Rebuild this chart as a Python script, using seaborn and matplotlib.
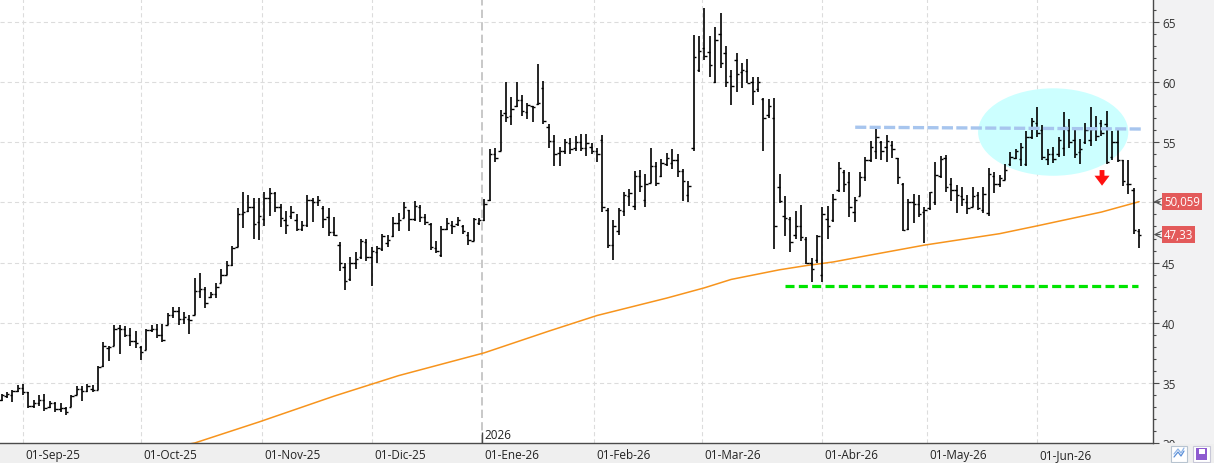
import numpy as np
import pandas as pd
import matplotlib
matplotlib.use("Agg")
import matplotlib.pyplot as plt
from matplotlib.patches import Ellipse, Polygon, Rectangle
from matplotlib.ticker import MultipleLocator
from matplotlib.transforms import Bbox, TransformedBbox
import seaborn as sns

# trading calendar (BME holidays removed)
holidays = ["2025-12-25", "2025-12-26", "2026-01-01", "2026-04-03", "2026-04-06", "2026-05-01"]
days = pd.bdate_range("2025-08-26", "2026-06-26")
days = days[~days.isin(pd.to_datetime(holidays))]

# daily OHLC
opens = [33.6, 33.9, 34.0, 34.3, 34.6, 34.2, 33.1, 33.3, 33.6, 33.0,
         33.3, 32.8, 32.9, 33.0, 34.0, 34.5, 34.3, 34.5, 34.4, 36.4,
         37.9, 38.1, 39.6, 39.5, 39.0, 38.5, 38.0, 37.7, 39.4, 39.5,
         39.0, 39.8, 40.6, 41.0, 40.3, 40.3, 40.6, 42.6, 42.8, 42.1,
         42.4, 43.3, 44.0, 44.8, 46.3, 49.0, 49.3, 49.6, 48.4, 48.6,
         50.4, 50.8, 49.6, 48.5, 48.9, 48.5, 47.8, 48.1, 50.2, 50.0,
         49.5, 48.8, 47.5, 46.5, 44.6, 43.6, 45.0, 45.5, 46.7, 45.5,
         45.9, 46.1, 46.6, 47.2, 48.3, 48.7, 49.4, 48.6, 49.6, 48.8,
         48.2, 46.2, 45.6, 47.8, 48.1, 48.2, 48.0, 47.3, 46.8, 48.3,
         48.5, 50.2, 54.0, 54.3, 57.4, 57.2, 58.0, 58.5, 57.5, 58.0,
         58.2, 59.5, 56.3, 55.1, 54.1, 54.3, 54.9, 54.5, 55.0, 54.5,
         54.6, 54.3, 55.2, 49.4, 46.5, 47.6, 49.3, 50.5, 49.7, 52.2,
         50.2, 51.6, 53.0, 52.2, 53.2, 53.3, 53.5, 52.6, 50.6, 54.5,
         61.0, 62.8, 62.5, 60.0, 64.0, 62.4, 60.5, 61.8, 60.8, 60.9,
         60.0, 59.4, 58.6, 57.3, 57.0, 51.3, 48.9, 48.6, 47.3, 48.0,
         47.0, 45.0, 45.2, 44.0, 48.6, 48.5, 51.0, 52.5, 51.7, 49.2,
         50.5, 52.1, 53.5, 54.3, 55.0, 54.6, 54.8, 53.7, 51.5, 47.8,
         50.0, 49.9, 49.2, 49.5, 50.0, 52.2, 53.7, 51.5, 51.0, 50.5,
         50.0, 49.6, 50.6, 49.4, 49.1, 52.2, 51.5, 51.9, 53.2, 53.7,
         53.6, 53.2, 55.4, 56.6, 56.0, 53.6, 54.0, 54.0, 54.5, 56.0,
         55.2, 54.2, 55.0, 55.2, 56.2, 56.6, 56.5, 53.8, 55.0, 53.5,
         51.5, 51.0, 47.6]
highs = [34.1, 34.2, 34.4, 34.8, 34.9, 34.25, 33.55, 34.0, 34.1, 33.5,
         33.4, 33.3, 33.0, 34.0, 34.7, 34.7, 34.9, 34.8, 36.4, 38.4,
         38.1, 39.8, 39.8, 39.7, 39.6, 39.3, 38.1, 39.5, 39.8, 39.9,
         39.9, 40.8, 41.3, 41.3, 40.9, 40.6, 43.7, 44.1, 43.0, 42.55,
         43.3, 44.5, 45.1, 46.4, 49.5, 50.9, 50.6, 50.4, 50.4, 50.9,
         51.2, 50.9, 49.9, 49.3, 49.7, 49.0, 48.45, 50.6, 50.4, 50.5,
         49.7, 49.5, 48.8, 46.7, 45.0, 45.5, 45.9, 47.0, 47.0, 46.3,
         46.4, 47.4, 47.3, 48.8, 49.1, 50.05, 49.4, 50.1, 49.8, 49.0,
         48.25, 46.8, 48.0, 48.7, 48.45, 48.8, 48.1, 47.55, 48.7, 48.7,
         50.3, 54.4, 54.5, 57.65, 60.0, 58.8, 60.0, 58.9, 58.3, 58.0,
         61.5, 60.1, 56.5, 55.6, 54.6, 55.25, 55.35, 55.5, 55.7, 55.7,
         54.9, 54.5, 55.6, 49.5, 48.5, 49.5, 50.9, 51.1, 52.6, 52.7,
         52.4, 54.5, 53.4, 53.6, 54.1, 54.4, 54.0, 52.75, 51.75, 63.95,
         63.8, 66.2, 63.8, 64.6, 65.75, 63.0, 61.0, 62.45, 61.6, 61.95,
         60.4, 60.4, 58.7, 58.6, 58.7, 52.4, 50.5, 48.8, 49.3, 49.8,
         47.1, 45.4, 47.3, 49.6, 49.7, 50.7, 53.4, 52.7, 52.5, 50.45,
         52.5, 53.75, 55.1, 56.2, 55.1, 55.6, 55.1, 53.7, 51.6, 50.3,
         50.7, 50.6, 49.6, 50.9, 53.35, 53.9, 53.95, 52.0, 51.45, 51.3,
         50.6, 51.3, 50.85, 51.3, 52.9, 52.5, 52.3, 53.2, 54.2, 54.45,
         54.9, 55.95, 57.05, 57.9, 56.4, 54.45, 54.6, 55.4, 57.5, 56.95,
         56.1, 55.3, 56.6, 57.95, 57.2, 56.85, 57.6, 55.9, 56.1, 53.5,
         53.5, 51.2, 47.75]
lows = [33.5, 33.7, 33.4, 34.25, 34.0, 32.9, 32.9, 33.05, 32.7, 32.9,
        32.6, 32.6, 32.3, 33.0, 34.0, 33.5, 34.25, 34.25, 34.4, 36.3,
        36.8, 38.1, 37.4, 38.8, 38.1, 37.9, 36.9, 37.7, 39.2, 38.75,
        38.4, 39.8, 40.4, 39.8, 39.9, 39.1, 40.6, 42.05, 41.2, 42.05,
        42.05, 43.3, 44.0, 44.7, 46.3, 47.9, 49.2, 47.0, 46.9, 48.0,
        48.9, 49.2, 47.95, 47.4, 48.6, 47.6, 47.6, 47.95, 48.4, 49.7,
        47.9, 47.2, 47.2, 44.3, 42.7, 43.5, 44.5, 45.3, 45.1, 43.05,
        45.0, 46.0, 46.3, 47.15, 47.6, 48.7, 47.6, 48.45, 48.4, 48.1,
        46.05, 45.8, 45.5, 47.7, 47.4, 48.0, 47.4, 46.5, 46.8, 48.1,
        48.45, 50.1, 53.4, 54.3, 56.7, 56.4, 57.9, 57.2, 56.95, 56.7,
        58.1, 56.5, 54.5, 53.0, 53.0, 54.0, 54.05, 54.3, 54.25, 53.85,
        54.0, 53.35, 49.2, 46.2, 45.25, 47.25, 48.9, 49.7, 49.4, 50.9,
        49.6, 51.6, 51.4, 52.1, 53.0, 52.75, 52.1, 50.1, 50.0, 54.25,
        60.8, 61.8, 60.4, 59.9, 61.2, 59.6, 58.1, 59.2, 59.5, 59.9,
        58.1, 59.2, 54.3, 57.0, 46.1, 49.95, 47.2, 45.85, 47.0, 46.8,
        44.9, 43.4, 45.0, 43.4, 47.0, 48.4, 50.9, 50.9, 48.75, 48.4,
        50.5, 51.75, 53.35, 53.6, 53.55, 53.4, 53.7, 51.5, 47.6, 47.7,
        48.3, 48.8, 46.65, 49.35, 49.8, 52.0, 50.9, 50.1, 49.1, 49.7,
        49.0, 49.6, 49.35, 49.1, 48.9, 50.75, 51.3, 51.9, 53.0, 53.6,
        53.0, 53.0, 55.3, 55.4, 53.5, 53.1, 53.3, 53.8, 53.9, 54.5,
        53.7, 53.2, 54.85, 54.7, 55.1, 55.55, 53.2, 53.5, 53.4, 51.4,
        50.7, 47.4, 46.2]
closes = [34.0, 34.1, 34.3, 34.6, 34.2, 33.1, 33.3, 33.6, 32.9, 33.3,
          32.8, 32.9, 32.6, 33.9, 34.5, 34.3, 34.7, 34.4, 36.3, 38.1,
          38.0, 39.5, 39.5, 39.0, 38.5, 38.3, 37.6, 39.4, 39.5, 39.0,
          38.6, 40.6, 41.0, 40.3, 40.5, 40.2, 42.6, 42.8, 41.6, 42.4,
          43.0, 44.0, 44.8, 46.2, 49.0, 49.2, 49.6, 48.2, 48.9, 50.4,
          50.8, 49.6, 48.7, 48.1, 49.2, 47.8, 48.1, 50.2, 50.0, 50.2,
          48.6, 47.5, 47.3, 45.0, 43.5, 45.0, 45.3, 46.8, 45.5, 46.0,
          46.2, 47.2, 46.9, 48.3, 48.5, 49.6, 48.6, 49.7, 48.8, 48.4,
          46.3, 46.0, 47.8, 48.3, 48.0, 48.5, 47.6, 46.9, 48.6, 48.5,
          49.9, 54.0, 53.7, 57.3, 57.1, 57.8, 58.5, 57.6, 58.1, 57.9,
          58.3, 56.8, 55.1, 54.0, 54.3, 55.0, 54.4, 55.0, 54.5, 54.9,
          54.3, 54.0, 49.6, 46.5, 48.0, 49.4, 50.6, 50.8, 52.2, 51.4,
          51.5, 53.0, 51.6, 53.3, 53.7, 53.5, 52.6, 51.8, 51.4, 62.1,
          62.6, 62.2, 61.4, 63.5, 61.6, 60.0, 59.7, 60.7, 61.0, 59.9,
          59.3, 60.0, 57.0, 58.0, 48.0, 50.1, 48.7, 46.7, 48.0, 47.1,
          45.0, 44.5, 47.2, 49.0, 48.0, 50.3, 52.9, 51.5, 49.6, 50.2,
          52.1, 53.5, 54.6, 55.4, 54.3, 55.1, 54.4, 52.1, 47.7, 50.0,
          49.9, 49.0, 49.4, 50.9, 52.3, 53.6, 51.3, 51.0, 50.6, 50.3,
          49.5, 50.5, 49.5, 50.7, 52.4, 51.5, 52.0, 52.7, 53.8, 54.3,
          54.6, 55.4, 56.8, 55.8, 53.8, 54.0, 53.6, 55.2, 56.3, 55.0,
          54.0, 54.4, 56.0, 56.1, 55.5, 55.8, 53.4, 55.0, 53.5, 51.8,
          51.5, 47.7, 47.33]

# orange moving average, read at a few bar positions
ma_pos = [30, 36, 48, 62, 74, 90, 102, 111, 124, 131, 136, 145, 150, 155, 161, 172, 186, 193, 205, 212]
ma_val = [29.5, 30.0, 31.75, 33.9, 35.6, 37.5, 39.3, 40.6, 42.05, 42.9, 43.6, 44.4, 44.75, 45.05,
          45.55, 46.45, 47.4, 48.05, 49.2, 50.06]

month_starts = ["2025-09-01", "2025-10-01", "2025-11-01", "2025-12-01", "2026-01-01",
                "2026-02-01", "2026-03-01", "2026-04-01", "2026-05-01", "2026-06-01"]
month_labels = ["01-Sep-25", "01-Oct-25", "01-Nov-25", "01-Dic-25", "01-Ene-26",
                "01-Feb-26", "01-Mar-26", "01-Abr-26", "01-May-26", "01-Jun-26"]
price_ticks = [30, 35, 40, 45, 50, 55, 60, 65]

resistance = 56.2
support = 43.05
last_ma = 50.059
last_close = 47.33

assert len(days) == len(opens) == len(highs) == len(lows) == len(closes)
x = np.arange(len(days))

tick_pos = []
for m in pd.to_datetime(month_starts):
    i = int(np.searchsorted(days, m))
    tick_pos.append(i if days[i] == m else i - 0.5)

sns.set_theme(style="white")
plt.rcParams["font.family"] = ["Open Sans", "DejaVu Sans"]
plt.rcParams["lines.scale_dashes"] = False

W, H = 1214, 464
fig = plt.figure(figsize=(W / 100, H / 100), dpi=100, facecolor="#f2f2f3")
ax = fig.add_axes([0, 20 / H, 1153 / W, 444 / H])
ax.set_facecolor("white")

# grid
grid_kw = dict(color="#dcdcdc", lw=0.8, dashes=(3, 2.2), zorder=0)
for v in price_ticks[1:]:
    ax.axhline(v, **grid_kw)
for p, lab in zip(tick_pos, month_labels):
    if lab.startswith("01-Ene"):
        ax.axvline(p, color="#c4c4c4", lw=1.3, dashes=(6, 3), zorder=0)
    else:
        ax.axvline(p, **grid_kw)

# channel highlight
ax.add_patch(Ellipse((196.0, 55.85), 28.0, 7.27, facecolor="#ccffff", edgecolor="none", zorder=1))

# moving average
sns.lineplot(x=ma_pos, y=ma_val, ax=ax, color="#f7941d", lw=1.1, zorder=2)

# OHLC bars
ax.vlines(x, lows, highs, color="black", lw=1.2, zorder=3)
ax.hlines(opens, x - 0.45, x, color="black", lw=1.0, zorder=3)
ax.hlines(closes, x, x + 0.45, color="black", lw=1.0, zorder=3)

# drawn levels
ax.plot([159.1, 212.8], [resistance + 0.05, resistance - 0.1], color="#a7c5ee", lw=2.4,
        dashes=(8, 2.4), zorder=4, solid_capstyle="butt")
ax.plot([146.0, 211.8], [support, support], color="#00e400", lw=2.3,
        dashes=(6.5, 3.1), zorder=4)

# red down arrow
ax.add_patch(Polygon([(204.65, 52.69), (205.55, 52.69), (205.55, 52.22), (206.5, 52.22),
                      (205.1, 51.39), (203.7, 52.22), (204.65, 52.22)],
                     closed=True, facecolor="#ff1010", edgecolor="none", zorder=5))

ax.set_xlim(-0.28, 214.6)
ax.set_ylim(30, 66.91)

# axes styling
for s in ["left", "top"]:
    ax.spines[s].set_visible(False)
for s in ["right", "bottom"]:
    ax.spines[s].set_color("#4a4a4a")
    ax.spines[s].set_linewidth(1.0)

ax.yaxis.tick_right()
ax.set_yticks(price_ticks)
# the "50" label sits under the last-value tag, as in the source
ax.set_yticklabels(["" if v == 50 else str(v) for v in price_ticks])
ax.yaxis.set_minor_locator(MultipleLocator(1))
ax.tick_params(axis="y", which="major", direction="out", length=4.5, width=0.8,
               color="#4a4a4a", labelsize=8.5, labelcolor="#333333", pad=2)
ax.tick_params(axis="y", which="minor", direction="out", length=2.5, width=0.8, color="#4a4a4a")
ax.set_xticks(tick_pos)
ax.set_xticklabels([])
ax.tick_params(axis="x", direction="out", length=6.5, width=0.8, color="#4a4a4a")
ax.set_xlabel("")
ax.set_ylabel("")

# clip the bottom "30" label like the source
clip = TransformedBbox(Bbox([[0, 20 / H], [1, 1]]), fig.transFigure)
for t in ax.yaxis.get_major_ticks():
    t.label2.set_clip_box(clip)
    t.label2.set_clip_on(True)

# bottom band and date labels
fig.patches.append(Rectangle((0, 0), 1, 19.5 / H, transform=fig.transFigure,
                             facecolor="#efefef", edgecolor="none", zorder=-1))
xt = ax.get_xaxis_transform()
for p, lab in zip(tick_pos, month_labels):
    ax.text(p + 0.4, -11.5 / 444, lab, transform=xt, ha="left", va="center",
            fontsize=8.5, color="#222222", clip_on=False)

# year marker
ax.vlines(tick_pos[4], 30, 30.95, color="#4a4a4a", lw=1.0, zorder=3)
ax.text(tick_pos[4] + 0.5, 30.2, "2026", fontsize=8.5, color="#222222", va="bottom", ha="left")

# last value tags
yt = ax.get_yaxis_transform()
for val, txt in [(last_ma, "50,059"), (last_close, "47,33")]:
    ax.text(1.0095, val, txt, transform=yt, ha="left", va="center", fontsize=8.3, color="white",
            clip_on=False, bbox=dict(boxstyle="square,pad=0.18", facecolor="#e35a5a", edgecolor="none"))
    ax.annotate("", xy=(1.0005, val), xytext=(1.0062, val), xycoords=yt, textcoords=yt,
                arrowprops=dict(arrowstyle="->", color="#555555", lw=0.8, shrinkA=0, shrinkB=0),
                annotation_clip=False)

# little toolbar icons
fig.patches.append(Rectangle((1171 / W, 1 / H), 16 / W, 16 / H, transform=fig.transFigure,
                             facecolor="white", edgecolor="#b8c4d0", lw=0.8))
fig.lines.append(plt.Line2D(np.array([1174, 1178, 1181, 1184]) / W, np.array([6, 11, 7, 12]) / H,
                            transform=fig.transFigure, color="#5a8fd8", lw=0.9))
fig.lines.append(plt.Line2D(np.array([1174, 1178, 1181, 1184]) / W, np.array([9, 14, 10, 15]) / H,
                            transform=fig.transFigure, color="#8fb5e8", lw=0.9))
fig.patches.append(Rectangle((1193 / W, 1 / H), 17 / W, 16 / H, transform=fig.transFigure,
                             facecolor="white", edgecolor="#c8c8d8", lw=0.8))
fig.patches.append(Rectangle((1196 / W, 3 / H), 11 / W, 12 / H, transform=fig.transFigure,
                             facecolor="#8e5bd0", edgecolor="none"))
fig.patches.append(Rectangle((1198.5 / W, 9.5 / H), 6 / W, 4.5 / H, transform=fig.transFigure,
                             facecolor="white", edgecolor="none"))

fig.savefig("out.png", dpi=100, facecolor=fig.get_facecolor())
